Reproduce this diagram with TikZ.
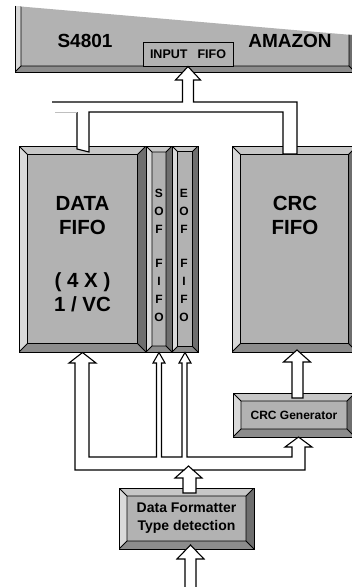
\documentclass[tikz,border=0pt]{standalone}
\usepackage{fontspec}
\setmainfont{Liberation Sans}
\usetikzlibrary{calc}

\definecolor{faceg}{gray}{0.70}
\definecolor{bvtop}{gray}{0.78}
\definecolor{bvleft}{gray}{0.85}
\definecolor{bvright}{gray}{0.43}
\definecolor{bvbot}{gray}{0.55}

\newcommand\fs[2]{\fontsize{#1}{#2}\selectfont\bfseries}
% bevelled faces of a block, #1 = bevel width in pt
\newcommand\bevelfaces[1]{%
  \coordinate (bvA) at (path picture bounding box.north west);
  \coordinate (bvB) at (path picture bounding box.north east);
  \coordinate (bvC) at (path picture bounding box.south east);
  \coordinate (bvD) at (path picture bounding box.south west);
  \coordinate (bva) at ($(bvA)+(#1pt,-#1pt)$);
  \coordinate (bvb) at ($(bvB)+(-#1pt,-#1pt)$);
  \coordinate (bvc) at ($(bvC)+(-#1pt,#1pt)$);
  \coordinate (bvd) at ($(bvD)+(#1pt,#1pt)$);
  \fill[bvtop] (bvA) -- (bvB) -- (bvb) -- (bva) -- cycle;
  \fill[bvleft] (bvA) -- (bva) -- (bvd) -- (bvD) -- cycle;
  \fill[bvright] (bvB) -- (bvC) -- (bvc) -- (bvb) -- cycle;
  \fill[bvbot] (bvD) -- (bvd) -- (bvc) -- (bvC) -- cycle;
  \draw[line width=0.9pt] (bva) rectangle (bvc) (bvA) -- (bva) (bvB) -- (bvb)
    (bvC) -- (bvc) (bvD) -- (bvd);
}

\tikzset{
  bevelbox/.style={draw, line width=1pt, fill=faceg, inner sep=0pt,
    path picture={\bevelfaces{#1}}},
  bevelbox/.default=8,
  wire/.style={draw, fill=white, line width=1.1pt},
  lbl/.style 2 args={font=\fs{#1}{#2}, align=center, inner sep=0pt},
}

\begin{document}
\begin{tikzpicture}[x=1pt, y=-1pt]
  % Page
  \path[use as bounding box, clip] (0,0) rectangle (352,587);
  \fill[white] (0,0) rectangle (352,587);
  % Amazon device, top edge cut off
  \begin{scope}
    \clip (0,4.7) -- (352,35) -- (352,80) -- (0,80) -- cycle;
    \node[bevelbox=6, minimum width=340, minimum height=92] (amazon) at (185,26) {};
  \end{scope}
  \node[lbl={19}{23}] (s4801) at (85,41) {S4801};
  \node[lbl={19}{23}] (amazonlbl) at (290,40.5) {AMAZON};
  \node[draw, line width=1pt, fill=faceg, minimum width=90, minimum height=24,
    inner sep=0pt, font=\fs{12.5}{14}] (infifo) at (188,54) {INPUT\hspace{10pt}FIFO};
  % FIFOs
  \node[bevelbox=8.5, minimum width=127, minimum height=206] (data) at (82.5,249) {};
  \node[bevelbox=6, minimum width=26, minimum height=206] (sof) at (159,249) {};
  \node[bevelbox=5.5, minimum width=26, minimum height=206] (eof) at (185,249) {};
  \node[bevelbox=8.5, minimum width=125, minimum height=206] (crcfifo) at (294.5,249) {};
  \node[lbl={20.5}{24}, anchor=north] (datatxt) at (82.5,196) {DATA\\FIFO\\[29pt]( 4 X )\\1 / VC};
  \node[lbl={20.5}{24}, anchor=north] (crctxt) at (295,196) {CRC\\FIFO};
  \node[lbl={12}{17.8}, anchor=north] (softxt) at (159,189) {S\\O\\F\\[17pt]F\\I\\F\\O};
  \node[lbl={12}{17.8}, anchor=north] (eoftxt) at (184,189) {E\\O\\F\\[17pt]F\\I\\F\\O};
  % Generator and formatter
  \node[bevelbox=8, minimum width=122, minimum height=44, font=\fs{12}{14}] (crcgen) at (294,415) {CRC Generator};
  \node[bevelbox=8, minimum width=135, minimum height=61, font=\fs{14}{18}, align=center]
    (fmt) at (186.5,518.5) {Data Formatter\\Type detection};
  % Bus up to the input fifo
  \fill[white] (77,149) -- (77,102) -- (182.5,102) -- (182.5,80) -- (175.5,80) -- (infifo.south)
    -- (200.5,80) -- (193.5,80) -- (193.5,102) -- (297,102) -- (297,154) -- (283,154)
    -- (283,112) -- (89,112) -- (89,152) -- cycle;
  \draw[wire, fill=none] (52,102) -- (182.5,102) -- (182.5,80) -- (175.5,80) -- (infifo.south)
    -- (200.5,80) -- (193.5,80) -- (193.5,102) -- (297,102) -- (297,154) -- (283,154)
    -- (283,112) -- (89,112) -- (89,152) -- (77,149) -- (77,112);
  \draw[gray!50, line width=1pt] (77,112) -- (55,112);
  % Bus from the formatter
  \filldraw[wire] (data.south) -- (96,363) -- (89,363) -- (89,457) -- (156.5,457)
    -- (156.5,363) -- (153,363) -- (sof.south) -- (165,363) -- (161.5,363) -- (161.5,457)
    -- (182,457) -- (182,363) -- (179,363) -- (eof.south) -- (191,363) -- (187,363)
    -- (187,457) -- (292,457) -- (292,447) -- (285,447) -- (298.5,437) -- (312,447)
    -- (305,447) -- (305,470) -- (193,470) -- (202,478) -- (196,478) -- (196,493)
    -- (183,493) -- (183,478) -- (175,478) -- (184,470) -- (75,470) -- (75,363)
    -- (69,363) -- cycle;
  \draw[wire, fill=none] (184,470) -- (188.5,466) -- (193,470);
  % CRC generator to CRC fifo
  \filldraw[wire] (292,398) -- (292,362) -- (283.5,362) -- (297,350) -- (310.5,362)
    -- (303,362) -- (303,398) -- cycle;
  % Input
  \filldraw[wire] (185,592) -- (185,559) -- (177,559) -- (190.5,545) -- (204,559)
    -- (196,559) -- (196,592);
\end{tikzpicture}
\end{document}
